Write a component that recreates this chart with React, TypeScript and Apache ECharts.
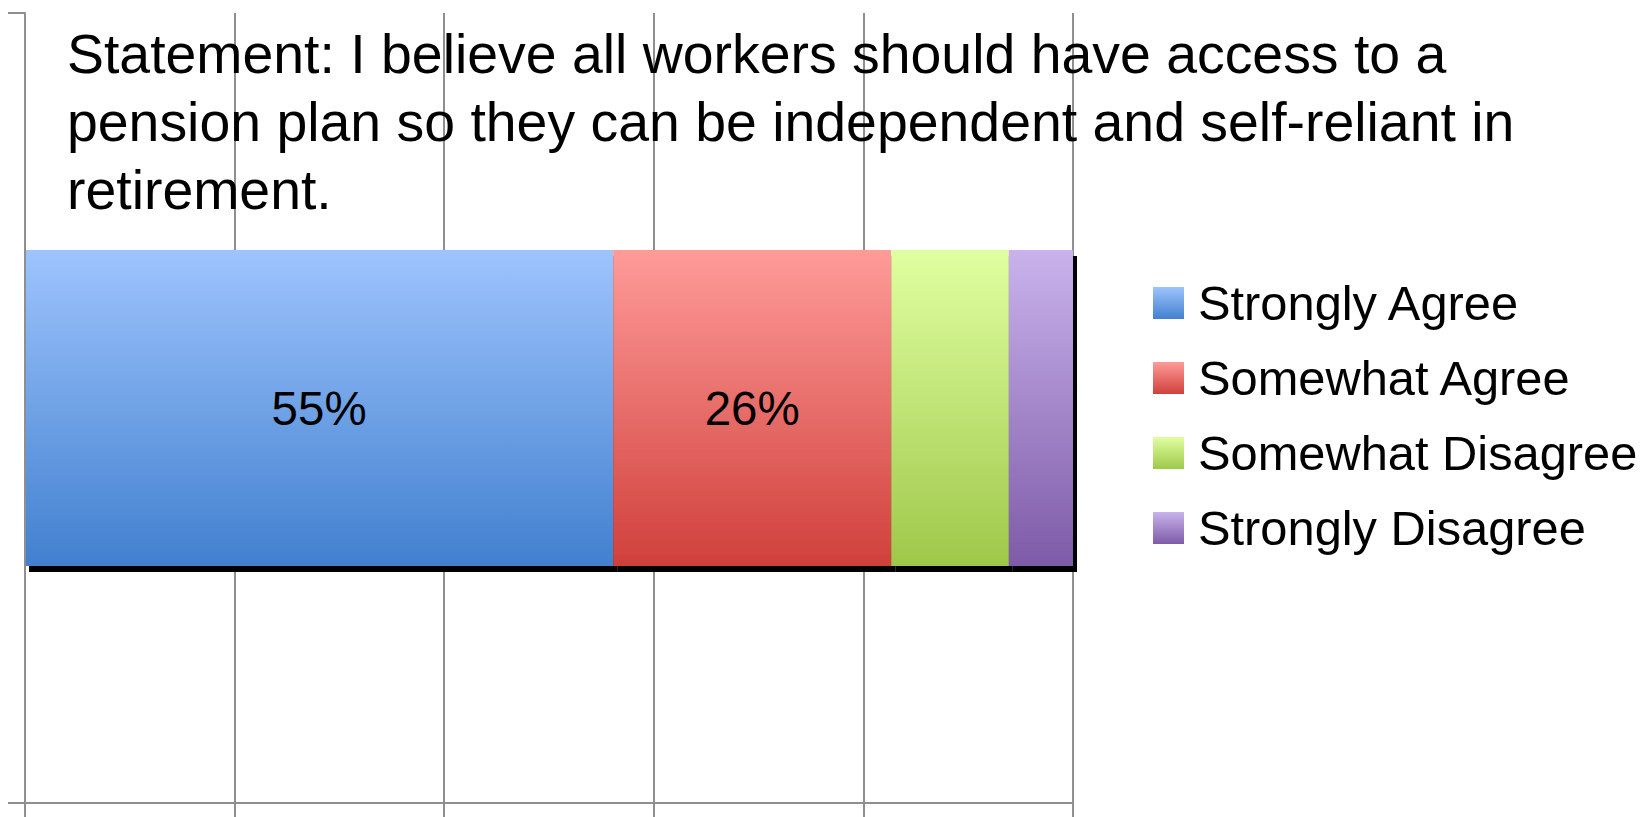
import React, { useEffect, useRef } from "react";
import * as echarts from "echarts";

const titleText =
  "Statement: I believe all workers should have access to a\npension plan so they can be independent and self-reliant in\nretirement.";
const categories = [""];
const seriesNames = ["Strongly Agree", "Somewhat Agree", "Somewhat Disagree", "Strongly Disagree"];
const seriesValues = [55, 26, 11, 6];
const showLabel = [true, true, false, false];
const gradientTops = ["#9ec4fd", "#fe9b99", "#e0ffa1", "#c9b3ec"];
const gradientBottoms = ["#4180cf", "#d0403b", "#9fc84a", "#7e5ba8"];

const FONT = "'Liberation Sans', Arial, sans-serif";
const GRAY = "#8f8f8f";

export default function App() {
  const ref = useRef<HTMLDivElement>(null);

  useEffect(() => {
    document.body.style.margin = "0";
    if (!ref.current) return;
    const chart = echarts.init(ref.current, undefined, { renderer: "svg" });
    const total = seriesValues.reduce((a, b) => a + b, 0);

    const series = seriesNames.map((name, i) => ({
      name,
      type: "bar",
      stack: "all",
      barWidth: "40%",
      data: [seriesValues[i]],
      itemStyle: {
        color: new echarts.graphic.LinearGradient(0, 0, 0, 1, [
          { offset: 0, color: gradientTops[i] },
          { offset: 1, color: gradientBottoms[i] },
        ]),
        shadowColor: "#000",
        shadowBlur: 0,
        shadowOffsetX: 4,
        shadowOffsetY: 6,
      },
      label: {
        show: showLabel[i],
        position: "inside",
        formatter: "{c}%",
        color: "#000",
        fontFamily: FONT,
        fontSize: 47.5,
      },
      emphasis: { disabled: true },
    }));

    chart.setOption({
      animation: false,
      title: {
        text: titleText,
        left: 67,
        top: 20,
        padding: 0,
        textStyle: {
          fontFamily: FONT,
          fontSize: 55.4,
          fontWeight: "normal",
          color: "#000",
          lineHeight: 68,
        },
      },
      legend: {
        orient: "vertical",
        left: 1153,
        top: 278,
        padding: 0,
        itemWidth: 31,
        itemHeight: 32,
        itemGap: 25,
        icon: "rect",
        data: seriesNames,
        textStyle: {
          fontFamily: FONT,
          fontSize: 48.8,
          lineHeight: 50,
          color: "#000",
          padding: [0, 0, 0, 9],
        },
      },
      grid: { left: 25, top: 13, right: 567, bottom: 14, containLabel: false },
      xAxis: {
        type: "value",
        min: 0,
        max: total,
        interval: total / 5,
        axisLabel: { show: false },
        axisLine: { show: true, lineStyle: { color: GRAY, width: 2 } },
        axisTick: { show: true, length: 14, lineStyle: { color: GRAY, width: 2 } },
        splitLine: { show: true, lineStyle: { color: GRAY, width: 2 } },
      },
      yAxis: {
        type: "category",
        z: 3,
        data: categories,
        axisLabel: { show: false },
        axisLine: { show: true, lineStyle: { color: GRAY, width: 2 } },
        axisTick: { show: true, length: 17, lineStyle: { color: GRAY, width: 2 } },
        splitLine: { show: false },
      },
      series,
    });

    return () => chart.dispose();
  }, []);

  return <div ref={ref} style={{ width: 1640, height: 817 }} />;
}
